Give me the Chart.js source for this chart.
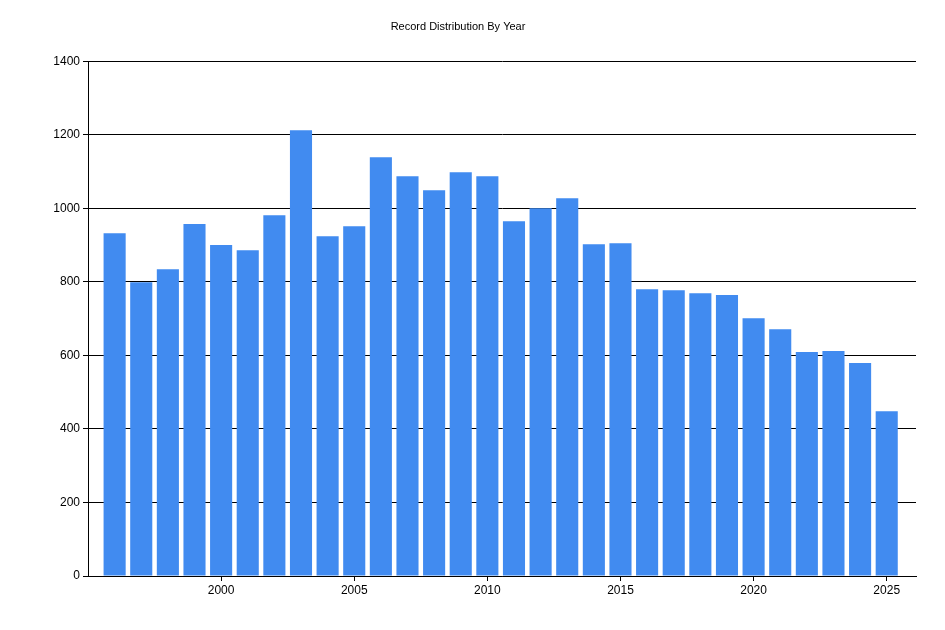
<!DOCTYPE html>
<html><head><script src="https://cdn.jsdelivr.net/npm/chart.js@4"></script>
<style>body{margin:0;background:#fff}#c{width:945px;height:630px}</style></head>
<body><div id="c"><canvas id="cv"></canvas></div>
<script>
const years=[1996,1997,1998,1999,2000,2001,2002,2003,2004,2005,2006,2007,2008,2009,2010,2011,2012,2013,2014,2015,2016,2017,2018,2019,2020,2021,2022,2023,2024,2025];
const counts=[932,799,834,957,900,886,981,1212,924,951,1139,1087,1049,1098,1087,965,1000,1027,902,905,780,777,769,764,701,671,609,612,579,448];
const xTicks=[2000,2005,2010,2015,2020,2025];
const yTicks=[0,200,400,600,800,1000,1200,1400];
const font={family:'"Liberation Sans", Arial, sans-serif',size:12};
new Chart(document.getElementById('cv'),{
type:'bar',
data:{datasets:[{data:years.map((y,i)=>({x:y,y:counts[i]})),backgroundColor:'#418BF0',barPercentage:0.83,categoryPercentage:1}]},
options:{responsive:true,maintainAspectRatio:false,animation:false,
layout:{padding:{left:0,right:29,top:0,bottom:0}},
plugins:{legend:{display:false},tooltip:{enabled:false},
title:{display:true,text:'Record Distribution By Year',color:'#000',font:{family:font.family,size:11,weight:'normal'},padding:{top:20,bottom:28}}},
scales:{
x:{type:'linear',offset:false,min:1995,max:2026.1,afterBuildTicks:a=>{a.ticks=xTicks.map(v=>({value:v}));},
grid:{offset:false,drawOnChartArea:false,drawTicks:true,tickLength:5,color:'#000'},border:{color:'#000'},
ticks:{color:'#000',font,padding:2,maxRotation:0,callback:v=>String(v)},afterFit:s=>{s.height=54;}},
y:{min:0,max:1400,afterBuildTicks:a=>{a.ticks=yTicks.map(v=>({value:v}));},
grid:{color:'#000',tickLength:5},border:{color:'#000'},
ticks:{color:'#000',font,padding:3,callback:v=>String(v)},afterFit:s=>{s.width=88;}}
}}});
</script></body></html>
